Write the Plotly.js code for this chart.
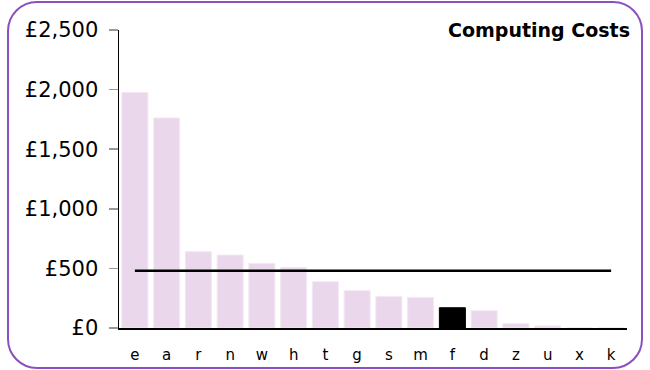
<!DOCTYPE html>
<html>
<head>
<meta charset="utf-8">
<script src="https://cdn.plot.ly/plotly-3.0.1.min.js"></script>
<style>
  html, body { margin: 0; padding: 0; background: #fff; }
  #wrap { position: relative; width: 650px; height: 370px; overflow: hidden; }
  #chart { position: absolute; left: 0; top: 0; width: 650px; height: 370px; }
  #frame { position: absolute; left: 7px; top: 1px; width: 632px; height: 364px;
           border: 2px solid #8A50BE; border-radius: 30px; pointer-events: none; }
</style>
</head>
<body>
<div id="wrap">
  <div id="chart"></div>
  <div id="frame"></div>
</div>
<script>
const categories = ['e','a','r','n','w','h','t','g','s','m','f','d','z','u','x','k'];
const costs = [1976, 1762, 640, 612, 542, 508, 388, 313, 263, 257, 170, 145, 36, 17, 0, 0];
const highlighted = 'f';
const averageCost = 480;
const yTickValues = [0, 500, 1000, 1500, 2000, 2500];
const yTickLabels = ['£0', '£500', '£1,000', '£1,500', '£2,000', '£2,500'];

const barColors = categories.map(c => c === highlighted ? '#000000' : '#EAD7EB');
const barLines = categories.map(c => c === highlighted ? '#000000' : '#F3E8F3');

const traces = [
  {
    type: 'bar',
    x: categories,
    y: costs,
    marker: { color: barColors, line: { color: barLines, width: 1 } },
    hoverinfo: 'x+y',
    showlegend: false
  },
  {
    type: 'scatter',
    mode: 'lines',
    x: [categories[0], categories[categories.length - 1]],
    y: [averageCost, averageCost],
    line: { color: '#000000', width: 2.5 },
    showlegend: false,
    hoverinfo: 'y'
  }
];

const layout = {
  width: 650,
  height: 370,
  margin: { l: 119, r: 23, t: 30, b: 42 },
  paper_bgcolor: '#ffffff',
  plot_bgcolor: '#ffffff',
  bargap: 0.18,
  font: { family: 'DejaVu Sans, Verdana, sans-serif', color: '#000000' },
  xaxis: {
    type: 'category',
    showline: true,
    linecolor: '#000000',
    linewidth: 1.5,
    ticks: 'outside',
    ticklen: 12,
    tickcolor: 'rgba(0,0,0,0)',
    showgrid: false,
    zeroline: false,
    tickfont: { size: 15, family: 'DejaVu Sans, Verdana, sans-serif' },
    fixedrange: true
  },
  yaxis: {
    range: [0, 2500],
    tickvals: yTickValues,
    ticktext: yTickLabels,
    showline: true,
    linecolor: '#000000',
    linewidth: 1.5,
    ticks: 'outside',
    ticklen: 9,
    tickcolor: '#999999',
    tickwidth: 1.5,
    ticklabelstandoff: 6,
    showgrid: false,
    zeroline: false,
    tickfont: { size: 21, family: 'DejaVu Sans, Verdana, sans-serif' },
    fixedrange: true
  },
  annotations: [
    {
      text: '<b>Computing Costs</b>',
      xref: 'paper', yref: 'paper',
      x: 1, y: 1,
      xanchor: 'right', yanchor: 'middle',
      xshift: 5, yshift: 0,
      showarrow: false,
      font: { size: 19, family: 'DejaVu Sans, Verdana, sans-serif', color: '#000000' }
    }
  ]
};

Plotly.newPlot('chart', traces, layout, { displayModeBar: false, staticPlot: true });
</script>
</body>
</html>
